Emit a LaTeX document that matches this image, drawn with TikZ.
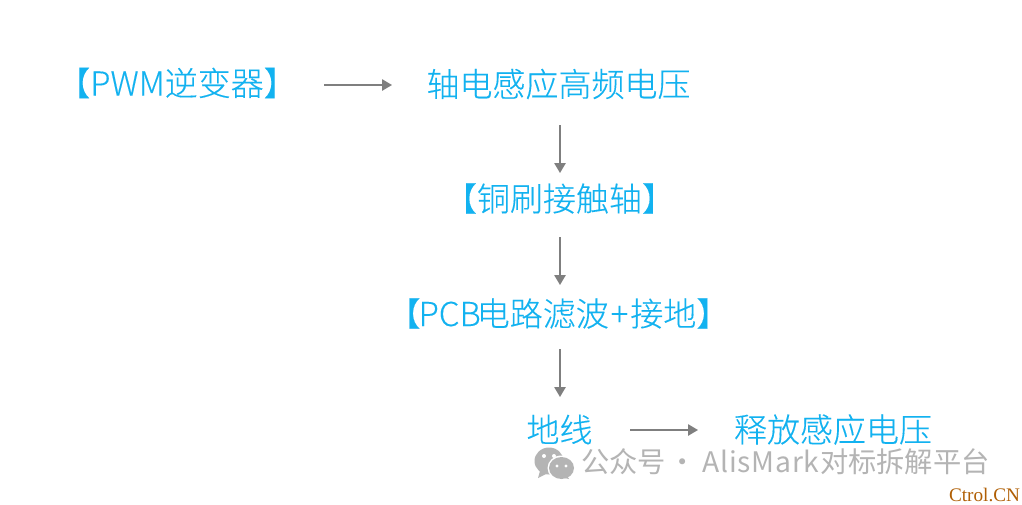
\documentclass[tikz,border=0pt]{standalone}
\usepackage{fontspec}
\setmainfont{Noto Sans CJK SC}[UprightFont=* Light,BoldFont=* Light,FakeBold=0.15]
\newfontfamily\flowfont{Noto Sans CJK SC Light}[AutoFakeBold=0.25]
\newfontfamily\markfont{Noto Sans CJK SC}
\newfontfamily\ctrlfont{Liberation Serif}
\usetikzlibrary{arrows.meta}
\definecolor{flowblue}{HTML}{12B2F0}
\definecolor{flowgray}{HTML}{7F7F7F}
\definecolor{markgray}{HTML}{B4B4B4}
\definecolor{ctrlbrown}{HTML}{B05F05}
\tikzset{
  flowtext/.style={text=flowblue,font=\flowfont\bfseries\fontsize{24.75pt}{26pt}\selectfont,inner sep=0pt,anchor=center},
  flowarrow/.style={draw=flowgray,line width=1.25pt,-{Triangle[length=7.5pt,width=8.5pt]}},
  pt/.style={inner sep=0pt,outer sep=0pt,minimum size=0pt},
}
\begin{document}
\begin{tikzpicture}[x=0.75pt,y=-0.75pt]
\useasboundingbox[fill=white] (0,0) rectangle (1022,504);
\node[flowtext] (pwm) at (177,83) {【PWM逆变器】};
\node[flowtext] (shaft) at (558.5,84) {轴电感应高频电压};
\node[flowtext] (brush) at (559.5,198.5) {【铜刷接触轴】};
\node[flowtext] (pcb) at (558.5,313.5) {【\kern-1.5pt PCB\kern-3pt 电路滤波\kern1.5pt+\kern1.5pt 接地】};
\node[flowtext] (ground) at (559.5,429.5) {地线};
\node[flowtext] (release) at (833,429.5) {释放感应电压};
\coordinate (a1s) at (324,85);\coordinate (a1e) at (392,85);
\coordinate (a2s) at (560,125);\coordinate (a2e) at (560,173);
\coordinate (a3s) at (560,237);\coordinate (a3e) at (560,285);
\coordinate (a4s) at (560,349);\coordinate (a4e) at (560,397);
\coordinate (a5s) at (630,430);\coordinate (a5e) at (698,430);
\draw[flowarrow] (a1s) -- (a1e);
\draw[flowarrow] (a2s) -- (a2e);
\draw[flowarrow] (a3s) -- (a3e);
\draw[flowarrow] (a4s) -- (a4e);
\draw[flowarrow] (a5s) -- (a5e);
% WeChat mark
\fill[markgray] (549,461) ellipse [x radius=14.5,y radius=13.5];
\fill[markgray] (540,471) -- (538,478) -- (548,473) -- cycle;
\fill[white] (561.5,468) ellipse [x radius=14,y radius=12.5];
\fill[markgray] (561.5,468) ellipse [x radius=12.5,y radius=11];
\fill[markgray] (567,476) -- (569,479) -- (561,477) -- cycle;
\fill[white] (544,456) circle (2) (554,456) circle (2) (557,466) circle (1.7) (566,466) circle (1.7);
\node[pt,text=markgray,font=\markfont\fontsize{21.2pt}{24pt}\selectfont,anchor=center] (mark) at (785.5,462) {公众号\kern2pt ·\kern4pt A\kern.6pt l\kern.6pt i\kern.6pt s\kern.6pt M\kern.6pt a\kern.6pt r\kern.6pt k\kern.5pt 对标拆解平台};
\node[pt,text=ctrlbrown,font=\ctrlfont\fontsize{14.4pt}{15pt}\selectfont,anchor=base] (ctrl) at (984.5,501.5) {Ctrol.CN};
\end{tikzpicture}
\end{document}
